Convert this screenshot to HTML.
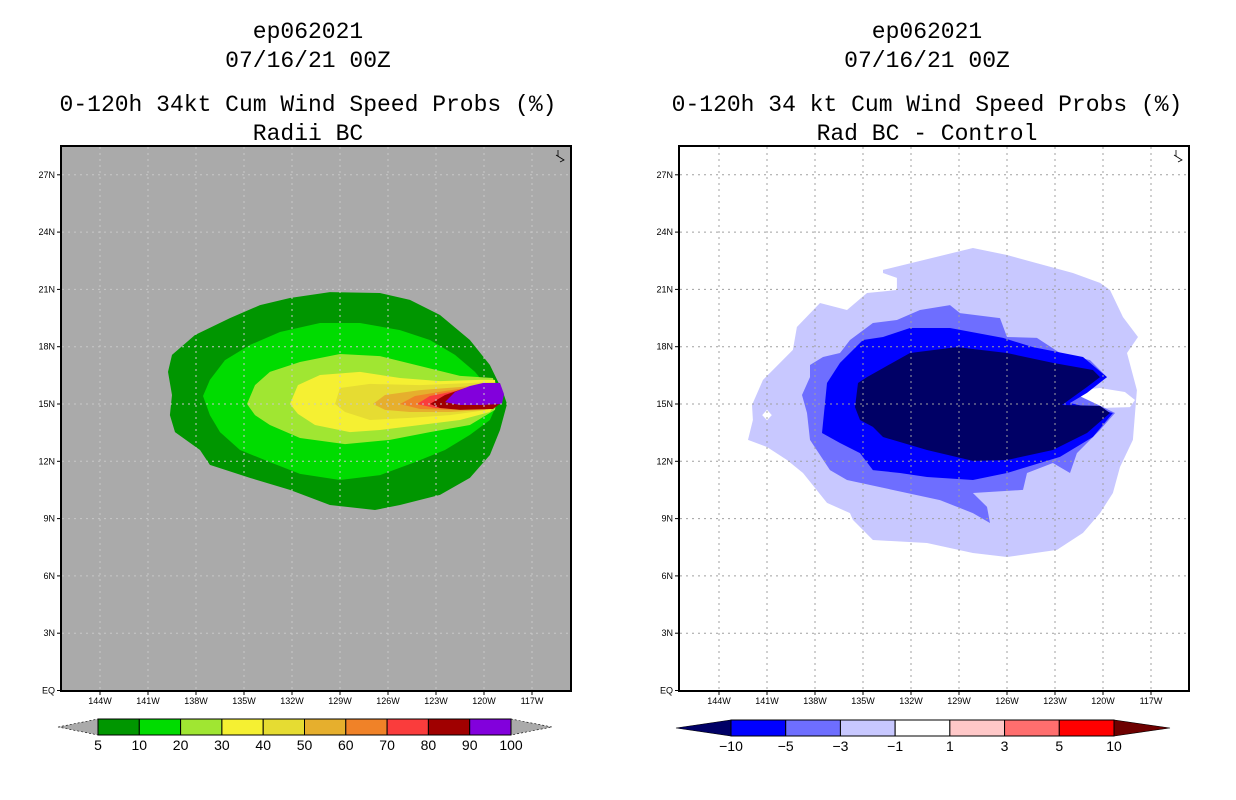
<!DOCTYPE html>
<html><head><meta charset="utf-8">
<style>
html,body{margin:0;padding:0;background:#fff;}
svg{display:block;}
.t{font-family:"Liberation Mono",monospace;font-size:23px;fill:#000;}
.ax{font-family:"Liberation Sans",sans-serif;font-size:9px;fill:#000;}
.cb{font-family:"Liberation Sans",sans-serif;font-size:14px;fill:#000;}
</style></head>
<body>
<svg id="chart" width="1236" height="800" viewBox="0 0 1236 800" xmlns="http://www.w3.org/2000/svg">
<defs>
<clipPath id="clipL"><rect x="61" y="146" width="510" height="545"/></clipPath>
<clipPath id="clipR"><rect x="679" y="146" width="510" height="545"/></clipPath>
</defs>
<g>
<text class="t" x="308" y="38" text-anchor="middle">ep062021</text>
<text class="t" x="308" y="67" text-anchor="middle">07/16/21 00Z</text>
<text class="t" x="308" y="111" text-anchor="middle">0-120h 34kt Cum Wind Speed Probs (%)</text>
<text class="t" x="308" y="140" text-anchor="middle">Radii BC</text>
</g>
<g>
<text class="t" x="927" y="38" text-anchor="middle">ep062021</text>
<text class="t" x="927" y="67" text-anchor="middle">07/16/21 00Z</text>
<text class="t" x="927" y="111" text-anchor="middle">0-120h 34 kt Cum Wind Speed Probs (%)</text>
<text class="t" x="927" y="140" text-anchor="middle">Rad BC - Control</text>
</g>
<rect x="61" y="146" width="510" height="545" fill="#aaaaaa"/>
<rect x="679" y="146" width="510" height="545" fill="#ffffff"/>
<g id="leftContours" clip-path="url(#clipL)"></g>
<g id="rightContours" clip-path="url(#clipR)"></g>
<g id="grids"></g>
<g id="axes"></g>
<g id="colorbars"></g>
</svg>
<script>
const lonTicks=[-144,-141,-138,-135,-132,-129,-126,-123,-120,-117];
const latTicks=[27,24,21,18,15,12,9,6,3,0];
const leftLevels=["5","10","20","30","40","50","60","70","80","90","100"];
const leftColors=["#009600","#00dc00","#a0e632","#f5f032","#e6dc32","#e6af2d","#f08228","#fa3c3c","#a00000","#8200dc"];
const rightLevels=["-10","-5","-3","-1","1","3","5","10"];
const rightColors=["#0000ff","#6e6eff","#c8c8ff","#ffffff","#ffc8c8","#ff6e6e","#ff0000"];
const p05=[[-139.75,16.68],[-139.5,17.57],[-138.06,18.61],[-135.88,19.5],[-134,20.18],[-132.13,20.55],[-129.63,20.86],[-126.5,20.81],[-124.63,20.45],[-122.75,19.66],[-120.88,18.35],[-119.63,17.04],[-118.81,15.63],[-118.56,15],[-119,13.64],[-119.63,12.33],[-120.88,11.13],[-122.75,10.24],[-125.25,9.71],[-126.81,9.45],[-129.63,9.71],[-132.13,10.5],[-134.63,11.13],[-137.13,11.81],[-137.75,12.59],[-139.31,13.53],[-139.63,14.42],[-139.5,15.47]];
const p10=[[-137.56,15.42],[-137.13,16.26],[-136.19,17.3],[-134.63,18.09],[-132.75,18.77],[-130.25,19.24],[-127.75,19.24],[-125.25,18.87],[-123.38,18.35],[-121.81,17.57],[-120.56,16.68],[-119.63,15.73],[-119.19,15],[-119.63,14.16],[-120.88,13.38],[-122.44,12.59],[-124.31,11.96],[-126.5,11.28],[-129,11.02],[-131.5,11.34],[-133.38,11.96],[-135.25,12.59],[-136.5,13.53],[-137.13,14.42]];
const p20=[[-134.81,15],[-134.31,15.99],[-133.38,16.68],[-131.5,17.2],[-129,17.62],[-126.5,17.51],[-124,16.99],[-121.5,16.47],[-119.44,16.36],[-119.19,15.47],[-119.31,14.69],[-120.88,13.9],[-123.38,13.53],[-125.88,13.12],[-128.69,12.9],[-131.5,13.22],[-133.38,13.9],[-134.31,14.42]];
const p30=[[-132.13,15],[-131.63,15.99],[-130.25,16.52],[-127.75,16.68],[-125.25,16.36],[-122.75,16.2],[-120.25,16.26],[-119.31,16.26],[-119.19,15.21],[-119.63,14.58],[-121.5,14.16],[-124,13.9],[-126.5,13.64],[-128.38,13.53],[-130.56,13.9],[-131.63,14.48]];
const p40=[[-129.31,15],[-129,15.84],[-127.13,16.05],[-124,15.99],[-120.88,16.1],[-119.31,16.15],[-119.19,15.21],[-119.75,14.69],[-122.13,14.42],[-124.63,14.27],[-127.13,14.16],[-128.69,14.58]];
const p50=[[-126.94,15],[-126.19,15.47],[-124,15.73],[-121.5,15.89],[-119.31,16.05],[-119.13,15.21],[-119.94,14.69],[-122.13,14.58],[-124.63,14.58],[-126.19,14.69]];
const p60=[[-125.25,15],[-124.31,15.42],[-122.44,15.68],[-120.25,15.94],[-119.25,15.94],[-119.13,15.21],[-119.75,14.79],[-122.13,14.69],[-124,14.74]];
const p70=[[-124.19,15],[-123.38,15.42],[-121.5,15.73],[-119.63,15.94],[-119.19,15.73],[-119,15.1],[-119.63,14.79],[-121.5,14.74],[-123.06,14.79]];
const p80=[[-123.38,15],[-122.44,15.47],[-121.19,15.84],[-119.63,15.94],[-119,15.63],[-118.88,15.1],[-119.44,14.74],[-121.5,14.69],[-122.75,14.79]];
const p90=[[-122.44,15.1],[-121.81,15.63],[-120.88,15.94],[-120.06,16.1],[-119,16.1],[-118.75,15.52],[-118.88,15],[-120.25,14.95],[-121.5,14.95]];
const leftPolys=[p05,p10,p20,p30,p40,p50,p60,p70,p80,p90];
const d1=[[-133.75,22.02],[-128.13,23.17],[-126,22.8],[-121.88,21.86],[-120.19,21.34],[-119.56,20.97],[-118.75,19.55],[-117.81,18.51],[-118.5,17.67],[-117.88,15.73],[-118.13,13.12],[-118.94,11.7],[-119.38,10.34],[-120.19,9.29],[-121.25,8.25],[-122.88,7.36],[-126,6.99],[-128.13,7.2],[-131,7.72],[-134.38,7.88],[-135.63,8.93],[-135.81,9.29],[-137.25,9.82],[-138.75,11.39],[-139.75,12.07],[-141,12.75],[-142.19,13.12],[-141.88,14.16],[-141.94,14.95],[-141.25,16.26],[-140.63,16.78],[-139.38,17.83],[-139.13,19.03],[-137.69,20.29],[-136,19.92],[-134.75,20.81],[-132.88,20.97],[-132.88,21.6],[-133.75,21.86]];
const d1holeA=[[-122.69,15.63],[-120.19,15.84],[-118.63,15.63],[-118,15.21],[-118.31,14.84],[-120.19,14.79],[-121.94,14.95]];
const d1holeB=[[-141.3,14.42],[-141,14.7],[-140.7,14.42],[-141,14.15]];
const d3=[[-138.81,15.47],[-138.31,16.41],[-138.31,17.04],[-137.5,17.46],[-136.44,17.67],[-135.81,18.35],[-134.38,19.24],[-132.88,19.4],[-131.44,19.92],[-129.56,20.18],[-128.94,19.76],[-126.44,19.5],[-126,18.51],[-124.13,18.46],[-122.69,17.67],[-120.81,17.3],[-119.75,16.41],[-120.63,15.89],[-121.88,15.58],[-120,14.84],[-119.25,14.53],[-120.19,13.64],[-121.63,12.43],[-122.06,11.39],[-123.13,11.91],[-124.75,11.39],[-125,10.5],[-128.13,10.34],[-127.25,9.61],[-127.06,8.77],[-128.13,9.29],[-130.19,9.97],[-132.25,10.34],[-133.94,10.65],[-136,11.02],[-137.06,11.54],[-138.31,13.12],[-138.5,14.53]];
const d5=[[-137.56,13.48],[-137.25,16.1],[-136.44,17.15],[-135,18.35],[-133.75,18.51],[-132.06,18.98],[-129.56,18.98],[-126.25,18.46],[-124.38,17.98],[-121.25,17.46],[-119.75,16.41],[-121,15.58],[-122.06,15.05],[-119.38,14.53],[-120.63,13.27],[-122.69,12.23],[-126,11.39],[-128.13,11.02],[-131,11.18],[-132.69,11.39],[-134.38,11.54],[-135.19,12.43],[-136.44,12.96]];
const d10=[[-135.5,14.84],[-135.31,16.1],[-134.75,16.41],[-133.75,16.88],[-132.06,17.67],[-129.13,17.98],[-126,17.67],[-123.13,17.15],[-120.63,16.78],[-120.19,16.41],[-121,15.89],[-122.56,14.95],[-120.19,14.9],[-119.56,14.53],[-121,13.48],[-123.13,12.59],[-126,12.07],[-128.13,12.02],[-131,12.59],[-133.75,13.27],[-134.38,13.8],[-135.19,14.16]];
const rightPolys=[d1,d1holeA,d1holeB,d3,d5,d10];
const rightPolyColors=["#c8c8ff","#ffffff","#ffffff","#6e6eff","#0000ff","#000066"];

const NS="http://www.w3.org/2000/svg";
const PX_LON=16, PX_LAT=19.1, Y15=404;
const X0L=100, X0R=719;
function xs(lon,x0){return x0+(lon+144)*PX_LON;}
function ys(lat){return Y15-(lat-15)*PX_LAT;}
function mk(tag,attrs,parent){const e=document.createElementNS(NS,tag);for(const k in attrs)e.setAttribute(k,attrs[k]);parent.appendChild(e);return e;}
function pts(poly,x0){return poly.map(p=>xs(p[0],x0).toFixed(1)+","+ys(p[1]).toFixed(1)).join(" ");}

const gL=document.getElementById('leftContours');
leftPolys.forEach((poly,i)=>{
  const e=mk('polygon',{points:pts(poly,X0L),fill:leftColors[i]},gL);
  
  
});
const gR=document.getElementById('rightContours');
rightPolys.forEach((poly,i)=>{
  const e=mk('polygon',{points:pts(poly,X0R),fill:rightPolyColors[i]},gR);
  
  
});

const gG=document.getElementById('grids');
[[X0L,61,'#c8c8c8'],[X0R,679,'#a0a0a0']].forEach(([x0,fx,col])=>{
  lonTicks.forEach(lon=>{const x=xs(lon,x0);
    const l=mk('line',{x1:x,x2:x,y1:147,y2:690,stroke:col,'stroke-width':1,'stroke-dasharray':'2,4'},gG);
    
    });
  latTicks.slice(0,9).forEach(lat=>{const y=ys(lat);
    const l=mk('line',{x1:fx+1,x2:fx+509,y1:y,y2:y,stroke:col,'stroke-width':1,'stroke-dasharray':'2,4'},gG);
    
    });
});

const gA=document.getElementById('axes');
[[X0L,61],[X0R,679]].forEach(([x0,fx])=>{
  const f=mk('rect',{x:fx,y:146,width:510,height:545,fill:'none',stroke:'#000','stroke-width':2},gA);
  
  
  latTicks.forEach(lat=>{const y=ys(lat);
    mk('line',{x1:fx-4,x2:fx,y1:y,y2:y,stroke:'#000','stroke-width':1},gA);
    const t=mk('text',{x:fx-6,y:y+3,'text-anchor':'end',class:'ax'},gA);
    t.textContent=lat===0?'EQ':lat+'N';
    
    });
  lonTicks.forEach(lon=>{const x=xs(lon,x0);
    mk('line',{x1:x,x2:x,y1:691,y2:695,stroke:'#000','stroke-width':1},gA);
    const t=mk('text',{x:x,y:704,'text-anchor':'middle',class:'ax'},gA);
    t.textContent=(-lon)+'W';
    
    });
  const ic=mk('path',{d:`M${fx+497} 150 l0 6 M${fx+495} 155 l8 5 l-4 2`,stroke:'#000',fill:'none','stroke-width':0.8},gA);
  
  
});

const gC=document.getElementById('colorbars');
function colorbar(x0,x1,tipL,tipR,levels,colors,triL,triR,y0,h,name){
  const n=colors.length,w=(x1-x0)/n;
  const a=mk('polygon',{points:`${tipL},${y0+h/2} ${x0},${y0} ${x0},${y0+h}`,fill:triL,stroke:'#000','stroke-width':0.6,'stroke-dasharray':triL==='#aaaaaa'?'2,2':'none'},gC);
  
  
  const b=mk('polygon',{points:`${tipR},${y0+h/2} ${x1},${y0} ${x1},${y0+h}`,fill:triR,stroke:'#000','stroke-width':0.6,'stroke-dasharray':triR==='#aaaaaa'?'2,2':'none'},gC);
  
  
  colors.forEach((c,i)=>{
    const r=mk('rect',{x:x0+i*w,y:y0,width:w,height:h,fill:c,stroke:'#000','stroke-width':1},gC);
    
    
  });
  levels.forEach((lv,i)=>{
    const t=mk('text',{x:x0+i*w,y:y0+h+15,'text-anchor':'middle',class:'cb'},gC);
    t.textContent=lv.replace('-','\u2212');
    
    
  });
}
colorbar(98,511,58,552,leftLevels,leftColors,'#aaaaaa','#aaaaaa',719,16,'left-colorbar');
colorbar(731,1114,676,1170,rightLevels,rightColors,'#000066','#6e0000',720,16,'right-colorbar');
</script>
</body></html>
